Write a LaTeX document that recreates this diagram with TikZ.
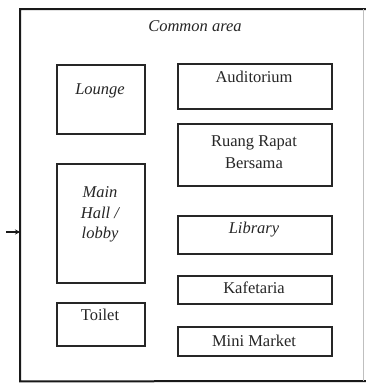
\documentclass[tikz,border=0pt]{standalone}
\usepackage{fontspec}
\setmainfont{Liberation Serif}
\usetikzlibrary{arrows.meta,shadows}
\begin{document}
\begin{tikzpicture}[x=1pt,y=-1pt,
  room/.style={draw=black!85,line width=1.6pt,fill=white,inner sep=0pt,anchor=north west,
    drop shadow={shadow xshift=0.8pt,shadow yshift=-1.6pt,opacity=0.35}},
  lbl/.style={font=\fontsize{16.5}{21}\selectfont,text=black!85,align=center,anchor=base,inner sep=0pt},
  ilbl/.style={lbl,font=\fontsize{16.5}{21}\selectfont\itshape}]
\useasboundingbox (0,0) rectangle (366,383);
\fill[white] (0,0) rectangle (366,383);
% outer common area
\node[inner sep=0pt,minimum width=343pt,minimum height=372pt,anchor=north west] (common) at (20,9) {};
\draw[black!90,line width=2pt] (366,9) -- (common.north west) -- (common.south west) -- (366,381);
\draw[black!25,line width=1pt] (common.north east) -- (common.south east);
\node[ilbl] (tcommon) at (195,31) {Common area};
% rooms
\node[room,minimum width=88pt,minimum height=69pt] (lounge) at (56,64) {};
\node[room,minimum width=154pt,minimum height=45pt] (aud) at (177,63) {};
\node[room,minimum width=154pt,minimum height=62pt] (ruang) at (177,123) {};
\node[room,minimum width=88pt,minimum height=119pt] (hall) at (56,163) {};
\node[room,minimum width=154pt,minimum height=38pt] (lib) at (177,215) {};
\node[room,minimum width=154pt,minimum height=28pt] (kaf) at (177,275) {};
\node[room,minimum width=88pt,minimum height=43pt] (toilet) at (56,302) {};
\node[room,minimum width=154pt,minimum height=29pt] (mini) at (177,326) {};
% labels
\node[ilbl] (tlounge) at (100,94) {Lounge};
\node[lbl] (taud) at (254,82) {Auditorium};
\node[lbl] (truang) at (254,146) {Ruang Rapat};
\node[lbl] (truang2) at (254,168) {Bersama};
\node[ilbl] (thall1) at (100,197) {Main};
\node[ilbl] (thall2) at (100,218) {Hall /};
\node[ilbl] (thall3) at (100,238) {lobby};
\node[ilbl] (tlib) at (254,233) {Library};
\node[lbl] (tkaf) at (254,293) {Kafetaria};
\node[lbl] (ttoilet) at (100,320) {Toilet};
\node[lbl] (tmini) at (254,346) {Mini Market};
% entrance arrow
\coordinate (entry) at (6,232);
\draw[-{Stealth[length=5pt,width=5pt]},line width=1.2pt,black!90] (entry) -- (common.west |- entry);
\end{tikzpicture}
\end{document}
